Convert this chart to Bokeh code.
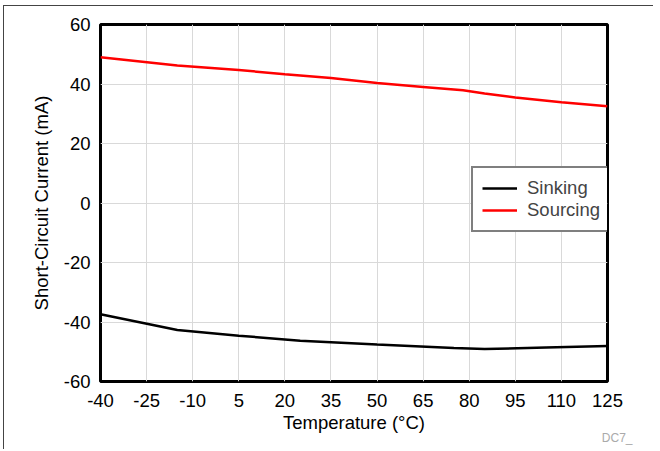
from bokeh.plotting import figure
from bokeh.models import Range1d, FixedTicker, Legend, LegendItem, Title
from bokeh.embed import file_html
from bokeh.resources import INLINE

temp_sink = [-40, -15, 5, 25, 50, 75, 85, 105, 125]
sinking = [-37.4, -42.7, -44.6, -46.3, -47.6, -48.7, -49.1, -48.6, -48.1]
temp_src = [-40, -15, 5, 20, 35, 50, 65, 78, 85, 95, 110, 125]
sourcing = [49.0, 46.2, 44.7, 43.3, 42.0, 40.3, 39.0, 37.9, 36.8, 35.5, 33.9, 32.5]
x_ticks = [-40, -25, -10, 5, 20, 35, 50, 65, 80, 95, 110, 125]
y_ticks = [-60, -40, -20, 0, 20, 40, 60]

FONT = "Liberation Sans"
FS = "18.5px"

p = figure(width=650, height=444, output_backend="svg", toolbar_location=None,
           x_range=Range1d(-40, 125), y_range=Range1d(-60, 60),
           min_border_left=96, min_border_right=47, min_border_top=18, min_border_bottom=69)
p.styles = {"border-top": "1px solid #444", "border-left": "1px solid #444",
            "margin-left": "3px", "margin-top": "5px"}

p.outline_line_color = "black"
p.outline_line_width = 3
p.xaxis.ticker = FixedTicker(ticks=x_ticks)
p.yaxis.ticker = FixedTicker(ticks=y_ticks)
p.xaxis.major_label_overrides = {t: str(t) for t in x_ticks}
p.yaxis.major_label_overrides = {t: str(t) for t in y_ticks}
for ax in (p.xaxis[0], p.yaxis[0]):
    ax.axis_line_color = None
    ax.major_tick_line_color = None
    ax.minor_tick_line_color = None
    ax.major_label_text_font = FONT
    ax.major_label_text_font_size = FS
    ax.major_label_text_color = "black"
    ax.axis_label_text_font = FONT
    ax.axis_label_text_font_size = FS
    ax.axis_label_text_font_style = "normal"
    ax.axis_label_text_color = "black"
p.xaxis.major_label_standoff = 6
p.yaxis.major_label_standoff = 4
p.xaxis.axis_label = "Temperature (°C)"
p.yaxis.axis_label = "Short-Circuit Current (mA)"
p.xaxis.axis_label_standoff = 2
p.yaxis.axis_label_standoff = 9
p.xgrid.grid_line_color = "#d9d9d9"
p.ygrid.grid_line_color = "#d9d9d9"

r1 = p.line(temp_sink, sinking, line_color="black", line_width=2.5)
r2 = p.line(temp_src, sourcing, line_color="#ff0000", line_width=2.5)

legend = Legend(items=[LegendItem(label="Sinking", renderers=[r1]),
                       LegendItem(label="Sourcing", renderers=[r2])],
                location=(371, 149), border_line_color="black", border_line_width=2.5,
                label_text_font=FONT, label_text_font_size=FS,
                glyph_width=35, label_standoff=10, padding=9, spacing=0,
                margin=0, background_fill_alpha=1)
p.add_layout(legend)

p.add_layout(Title(text="DC7_", text_font=FONT, text_font_size="12px", text_font_style="normal",
                   text_color="#aaaaaa", align="right", offset=-25, standoff=-14), "below")

open("out.html", "w").write(file_html(p, INLINE))
